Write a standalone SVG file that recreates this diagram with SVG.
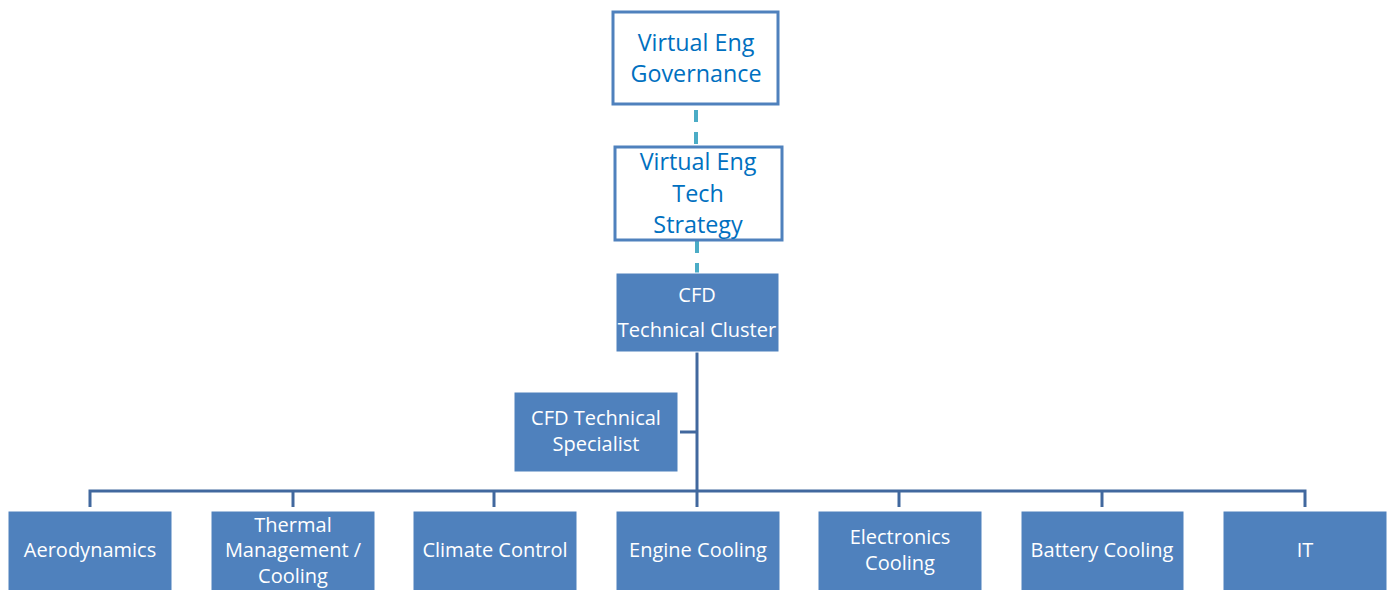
<svg xmlns="http://www.w3.org/2000/svg" width="1395" height="590" viewBox="0 0 1395 590">
<style>
.outline{fill:#fff;stroke:#4F81BD;stroke-width:3}
.solid{fill:#4F81BD;stroke:#fff;stroke-width:1}
.t1{font-family:"Open Sans","Liberation Sans",sans-serif;font-size:23.3px;fill:#0070C0;text-anchor:middle}
.t2{font-family:"Open Sans","Liberation Sans",sans-serif;font-size:20px;fill:#fff;text-anchor:middle}
.dash{stroke:#4BACC6;stroke-width:4;stroke-dasharray:12,10;fill:none}
.conn{stroke:#41689E;stroke-width:3;fill:none}
</style>
<rect width="1395" height="590" fill="#fff"/>
<g id="connectors">
<line class="dash" x1="696" y1="110" x2="696" y2="146"/>
<line class="dash" x1="697" y1="241" x2="697" y2="273"/>
<line class="conn" x1="697" y1="352" x2="697" y2="507"/>
<line class="conn" x1="680" y1="432" x2="697" y2="432"/>
<path class="conn" d="M90,507 V491 H1305 V507"/>
<line class="conn" x1="293" y1="491" x2="293" y2="507"/>
<line class="conn" x1="494" y1="491" x2="494" y2="507"/>
<line class="conn" x1="899" y1="491" x2="899" y2="507"/>
<line class="conn" x1="1102" y1="491" x2="1102" y2="507"/>
</g>
<g id="governance">
<rect class="outline" x="613" y="12" width="165" height="92"/>
<text class="t1" x="696" y="51">Virtual Eng</text>
<text class="t1" x="696" y="82">Governance</text>
</g>
<g id="techstrategy">
<rect class="outline" x="615" y="147" width="167" height="93"/>
<text class="t1" x="698" y="170">Virtual Eng</text>
<text class="t1" x="698" y="202">Tech</text>
<text class="t1" x="698" y="233">Strategy</text>
</g>
<g id="cluster">
<rect class="solid" x="616" y="273" width="163" height="79"/>
<text class="t2" x="697" y="302">CFD</text>
<text class="t2" x="697" y="337">Technical Cluster</text>
</g>
<g id="specialist">
<rect class="solid" x="514" y="392" width="164" height="80"/>
<text class="t2" x="596" y="425">CFD Technical</text>
<text class="t2" x="596" y="451">Specialist</text>
</g>
<g id="aero">
<rect class="solid" x="8" y="511" width="164" height="85"/>
<text class="t2" x="90" y="557">Aerodynamics</text>
</g>
<g id="thermal">
<rect class="solid" x="211" y="511" width="164" height="85"/>
<text class="t2" x="293" y="532">Thermal</text>
<text class="t2" x="293" y="557">Management /</text>
<text class="t2" x="293" y="583">Cooling</text>
</g>
<g id="climate">
<rect class="solid" x="413" y="511" width="164" height="85"/>
<text class="t2" x="495" y="557">Climate Control</text>
</g>
<g id="engine">
<rect class="solid" x="616" y="511" width="164" height="85"/>
<text class="t2" x="698" y="557">Engine Cooling</text>
</g>
<g id="electronics">
<rect class="solid" x="818" y="511" width="164" height="85"/>
<text class="t2" x="900" y="544">Electronics</text>
<text class="t2" x="900" y="570">Cooling</text>
</g>
<g id="battery">
<rect class="solid" x="1021" y="511" width="163" height="85"/>
<text class="t2" x="1102" y="557">Battery Cooling</text>
</g>
<g id="it">
<rect class="solid" x="1223" y="511" width="164" height="85"/>
<text class="t2" x="1305" y="557">IT</text>
</g>
</svg>
